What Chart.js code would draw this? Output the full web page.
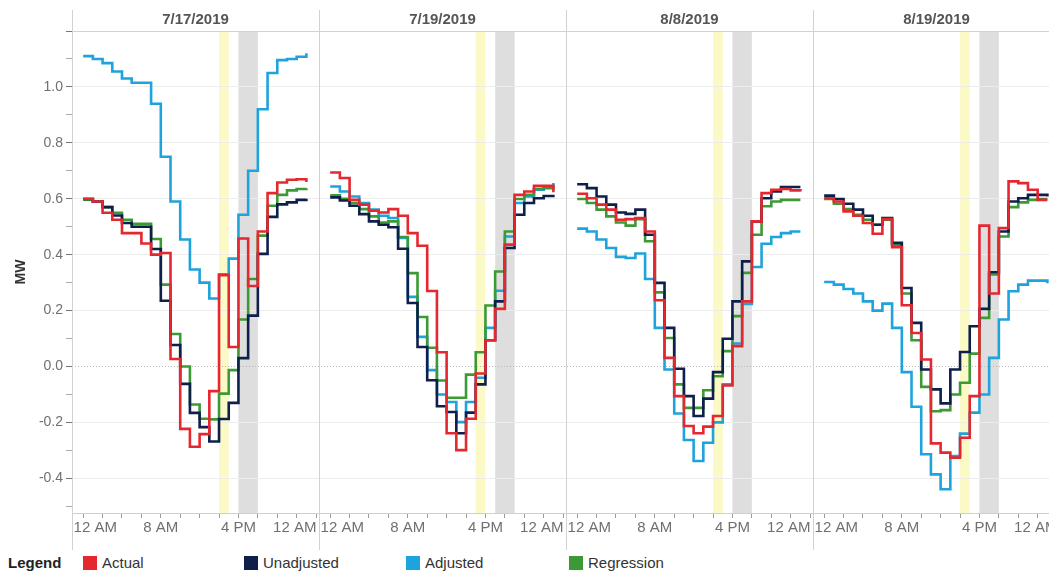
<!DOCTYPE html>
<html>
<head>
<meta charset="utf-8">
<title>MW by hour</title>
<script src="https://cdn.jsdelivr.net/npm/chart.js@4.4.1/dist/chart.umd.min.js"></script>
<style>
  body { margin: 0; background: #fff; overflow: hidden; font-family: "Liberation Sans", Arial, sans-serif; }
  #wrap { position: absolute; left: 0; top: 0; width: 1060px; height: 550px; }
  #legend { position: absolute; left: 0; top: 553px; width: 1049px; height: 20px; font-size: 15px; color: #333; }
  #legend span { position: absolute; top: 1px; white-space: nowrap; }
  #legend .title { font-weight: bold; color: #222; left: 8px; }
  #legend .sw { top: 3px; width: 14px; height: 14px; }
</style>
</head>
<body>
<div id="wrap"><canvas id="mwChart"></canvas></div>
<div id="legend"></div>
<script>
// days shown as panels
const days = ['7/17/2019', '7/19/2019', '8/8/2019', '8/19/2019'];
const hours = [0, 1, 2, 3, 4, 5, 6, 7, 8, 9, 10, 11, 12, 13, 14, 15, 16, 17, 18, 19, 20, 21, 22, 23];

// MW per hour, one row per day
const actual = [
  [0.60, 0.59, 0.55, 0.525, 0.477, 0.477, 0.44, 0.40, 0.406, 0.027, -0.223, -0.287, -0.242, -0.088, 0.327, 0.07, 0.458, 0.288, 0.483, 0.62, 0.658, 0.668, 0.67, 0.66],
  [0.694, 0.674, 0.596, 0.579, 0.557, 0.551, 0.563, 0.539, 0.477, 0.432, 0.27, 0.051, -0.239, -0.299, -0.187, -0.025, 0.094, 0.206, 0.436, 0.614, 0.626, 0.646, 0.646, 0.623],
  [0.618, 0.602, 0.579, 0.561, 0.525, 0.527, 0.531, 0.483, 0.237, 0.031, -0.106, -0.213, -0.239, -0.215, -0.177, -0.068, 0.073, 0.233, 0.519, 0.62, 0.632, 0.635, 0.63, 0.626],
  [0.602, 0.59, 0.555, 0.539, 0.513, 0.475, 0.527, 0.427, 0.219, 0.12, 0.025, -0.275, -0.308, -0.326, -0.255, -0.106, 0.504, 0.261, 0.495, 0.662, 0.656, 0.632, 0.596, 0.596]
];
const unadjusted = [
  [0.599, 0.59, 0.57, 0.54, 0.513, 0.50, 0.50, 0.42, 0.235, 0.077, -0.062, -0.166, -0.217, -0.268, -0.188, -0.13, 0.03, 0.182, 0.403, 0.535, 0.58, 0.587, 0.596, 0.60],
  [0.605, 0.594, 0.575, 0.545, 0.519, 0.507, 0.498, 0.421, 0.227, 0.07, -0.049, -0.142, -0.163, -0.239, -0.165, -0.064, 0.094, 0.233, 0.424, 0.543, 0.585, 0.602, 0.61, 0.614],
  [0.652, 0.638, 0.608, 0.579, 0.551, 0.546, 0.561, 0.471, 0.299, 0.138, -0.008, -0.106, -0.177, -0.115, -0.02, 0.099, 0.233, 0.376, 0.519, 0.602, 0.626, 0.642, 0.642, 0.642],
  [0.611, 0.599, 0.582, 0.561, 0.539, 0.507, 0.531, 0.442, 0.281, 0.156, -0.011, -0.082, -0.132, -0.011, 0.052, 0.144, 0.206, 0.337, 0.483, 0.59, 0.602, 0.614, 0.614, 0.608]
];
const adjusted = [
  [1.11, 1.10, 1.085, 1.055, 1.03, 1.015, 1.015, 0.94, 0.75, 0.59, 0.454, 0.347, 0.30, 0.243, 0.33, 0.386, 0.543, 0.70, 0.92, 1.05, 1.096, 1.10, 1.108, 1.12],
  [0.644, 0.626, 0.608, 0.585, 0.561, 0.539, 0.531, 0.46, 0.249, 0.106, -0.013, -0.1, -0.127, -0.199, -0.127, -0.04, 0.138, 0.271, 0.465, 0.585, 0.608, 0.632, 0.644, 0.656],
  [0.493, 0.483, 0.454, 0.424, 0.392, 0.388, 0.404, 0.313, 0.138, -0.011, -0.168, -0.263, -0.338, -0.273, -0.2, -0.064, 0.082, 0.224, 0.356, 0.439, 0.463, 0.477, 0.483, 0.483],
  [0.302, 0.293, 0.277, 0.261, 0.233, 0.2, 0.225, 0.138, -0.02, -0.144, -0.314, -0.386, -0.439, -0.32, -0.24, -0.165, -0.1, 0.031, 0.168, 0.269, 0.293, 0.307, 0.307, 0.298]
];
const regression = [
  [0.597, 0.59, 0.57, 0.55, 0.525, 0.51, 0.51, 0.456, 0.293, 0.116, 0.0, -0.136, -0.187, -0.189, -0.097, -0.013, 0.168, 0.313, 0.468, 0.575, 0.614, 0.63, 0.635, 0.638],
  [0.612, 0.6, 0.585, 0.563, 0.537, 0.515, 0.519, 0.463, 0.334, 0.177, 0.067, -0.05, -0.112, -0.112, -0.029, 0.051, 0.218, 0.34, 0.483, 0.599, 0.614, 0.635, 0.638, 0.644],
  [0.599, 0.585, 0.561, 0.537, 0.515, 0.504, 0.527, 0.448, 0.265, 0.102, -0.064, -0.148, -0.148, -0.085, -0.035, 0.055, 0.18, 0.335, 0.471, 0.573, 0.59, 0.596, 0.596, 0.596],
  [0.599, 0.582, 0.563, 0.543, 0.525, 0.507, 0.525, 0.436, 0.261, 0.094, -0.073, -0.16, -0.156, -0.1, -0.058, 0.046, 0.174, 0.329, 0.465, 0.57, 0.587, 0.596, 0.599, 0.599]
];

// highlighted windows (start hour) per day
const yellowStart = [14, 15, 14, 14];
const greyStart = [16, 17, 16, 16];

const xTickHours = [0, 8, 16, 24];
const xTickLabels = ['12 AM', '8 AM', '4 PM', '12 AM'];
const yTickValues = [-0.5, -0.4, -0.3, -0.2, -0.1, 0.0, 0.1, 0.2, 0.3, 0.4, 0.5, 0.6, 0.7, 0.8, 0.9, 1.0, 1.1, 1.2];

const seriesNames = ['Actual', 'Unadjusted', 'Adjusted', 'Regression'];
const seriesColors = ['#e52730', '#0f1f4b', '#1fa3dc', '#3c9a34'];

// layout of the panels on the shared x axis (in hours)
const PANEL = 25.45;
const LEAD = 1.15;
const LABEL_IN_LEFT = 1.25;
const LABEL_IN_RIGHT = 2.2;

Chart.defaults.font.family = '"Liberation Sans", Arial, sans-serif';
Chart.defaults.font.size = 14;

function toPoints(rows) {
  const pts = [];
  rows.forEach((row, d) => {
    row.forEach((v, i) => pts.push({ x: d * PANEL + hours[i], y: v }));
    pts.push({ x: d * PANEL + 24, y: null });
  });
  return pts;
}

function isMajor(v) {
  return Math.round(v * 10) % 2 === 0;
}
function hasLabel(v) {
  const r = Math.round(v * 10);
  return r % 2 === 0 && r >= -4 && r <= 10;
}

// x ticks: small marks every 2 hours plus the hour labels
const xTicks = [];
days.forEach((d, i) => {
  for (let h = 0; h <= 24; h += 2) xTicks.push({ value: i * PANEL + h });
  xTickHours.forEach((h, k) => {
    let pos = h;
    if (k === 0) pos = h + LABEL_IN_LEFT;
    if (k === xTickHours.length - 1) pos = h - LABEL_IN_RIGHT;
    xTicks.push({ value: i * PANEL + pos, lbl: xTickLabels[k] });
  });
});
xTicks.sort((a, b) => a.value - b.value);

const panelPlugin = {
  id: 'panels',
  beforeDraw(chart) {
    const { ctx, chartArea: a, scales: { x } } = chart;
    ctx.save();
    days.forEach((d, i) => {
      const y0 = x.getPixelForValue(i * PANEL + yellowStart[i]);
      const y1 = x.getPixelForValue(i * PANEL + yellowStart[i] + 1);
      ctx.fillStyle = '#fbf9c6';
      ctx.fillRect(y0, a.top, y1 - y0, a.bottom - a.top);
      const g0 = x.getPixelForValue(i * PANEL + greyStart[i]);
      const g1 = x.getPixelForValue(i * PANEL + greyStart[i] + 2);
      ctx.fillStyle = '#dedede';
      ctx.fillRect(g0, a.top, g1 - g0, a.bottom - a.top);
    });
    ctx.restore();
  },
  beforeDatasetsDraw(chart) {
    const { ctx, chartArea: a, scales: { y } } = chart;
    const zy = Math.round(y.getPixelForValue(0)) + 0.5;
    ctx.save();
    ctx.strokeStyle = '#b8b8b8';
    ctx.lineWidth = 1;
    ctx.setLineDash([1, 2]);
    ctx.beginPath();
    ctx.moveTo(a.left, zy);
    ctx.lineTo(a.right, zy);
    ctx.stroke();
    ctx.restore();
  },
  afterDraw(chart) {
    const { ctx, chartArea: a, scales: { x } } = chart;
    ctx.save();
    ctx.strokeStyle = '#d2d2d2';
    ctx.lineWidth = 1;
    // header line
    ctx.beginPath();
    ctx.moveTo(a.left, Math.round(a.top) + 0.5);
    ctx.lineTo(a.right, Math.round(a.top) + 0.5);
    ctx.stroke();
    // y axis line and panel separators
    for (let i = 0; i < days.length; i++) {
      const px = Math.round(x.getPixelForValue(i * PANEL - LEAD)) + 0.5;
      ctx.beginPath();
      ctx.moveTo(px, 10);
      ctx.lineTo(px, chart.height);
      ctx.stroke();
    }
    // panel titles
    ctx.fillStyle = '#555';
    ctx.font = 'bold 15px "Liberation Sans", Arial, sans-serif';
    ctx.textAlign = 'center';
    ctx.textBaseline = 'middle';
    days.forEach((d, i) => {
      ctx.fillText(d, x.getPixelForValue(i * PANEL - LEAD + PANEL / 2), 20);
    });
    ctx.restore();
  }
};

const allSeries = [actual, unadjusted, adjusted, regression];
const drawOrder = [0, 1, 3, 2];

new Chart(document.getElementById('mwChart'), {
  type: 'line',
  data: {
    datasets: allSeries.map((rows, s) => ({
      label: seriesNames[s],
      data: toPoints(rows),
      borderColor: seriesColors[s],
      backgroundColor: seriesColors[s],
      borderWidth: 2.6,
      pointRadius: 0,
      stepped: 'before',
      spanGaps: false,
      fill: false,
      order: drawOrder[s]
    }))
  },
  options: {
    responsive: true,
    maintainAspectRatio: false,
    animation: false,
    layout: { padding: { top: 31, bottom: 5, left: 0, right: 0 } },
    plugins: { legend: { display: false }, tooltip: { enabled: false } },
    scales: {
      x: {
        type: 'linear',
        min: -LEAD,
        max: days.length * PANEL - LEAD,
        bounds: 'data',
        afterBuildTicks: axis => { axis.ticks = xTicks.map(t => ({ value: t.value, lbl: t.lbl })); },
        afterFit: axis => { axis.height = 32; },
        ticks: {
          autoSkip: false,
          maxRotation: 0,
          minRotation: 0,
          padding: 1,
          color: '#707070',
          font: { size: 15 },
          callback: (v, i, t) => t[i].lbl || ''
        },
        grid: {
          drawOnChartArea: false,
          tickLength: 5,
          tickColor: c => (c.tick && c.tick.lbl) ? 'rgba(0,0,0,0)' : '#9a9a9a'
        },
        border: { color: '#cfcfcf' }
      },
      y: {
        type: 'linear',
        min: -0.524,
        max: 1.2,
        bounds: 'data',
        afterBuildTicks: axis => { axis.ticks = yTickValues.map(v => ({ value: v })); },
        afterFit: axis => { axis.width = 72; },
        ticks: {
          autoSkip: false,
          padding: 3,
          color: '#707070',
          font: { size: 14 },
          callback: v => hasLabel(v) ? v.toFixed(1) : ''
        },
        grid: {
          tickLength: 6,
          color: c => (c.tick && hasLabel(c.tick.value) && Math.round(c.tick.value * 10) !== 0) ? '#ececec' : 'rgba(0,0,0,0)',
          tickColor: c => (c.tick && isMajor(c.tick.value)) ? '#777' : '#aaa'
        },
        border: { display: false },
        title: {
          display: true,
          text: 'MW',
          color: '#333',
          font: { size: 14, weight: 'bold' },
          padding: { top: 13, bottom: 0 }
        }
      }
    }
  },
  plugins: [panelPlugin]
});

// legend row
const legend = document.getElementById('legend');
const legendLeft = [83, 244, 406, 569];
legend.innerHTML = '<span class="title">Legend</span>' + seriesNames.map((n, i) =>
  '<span class="sw" style="left:' + legendLeft[i] + 'px;background:' + seriesColors[i] + '"></span>' +
  '<span style="left:' + (legendLeft[i] + 19) + 'px">' + n + '</span>').join('');
</script>
</body>
</html>
